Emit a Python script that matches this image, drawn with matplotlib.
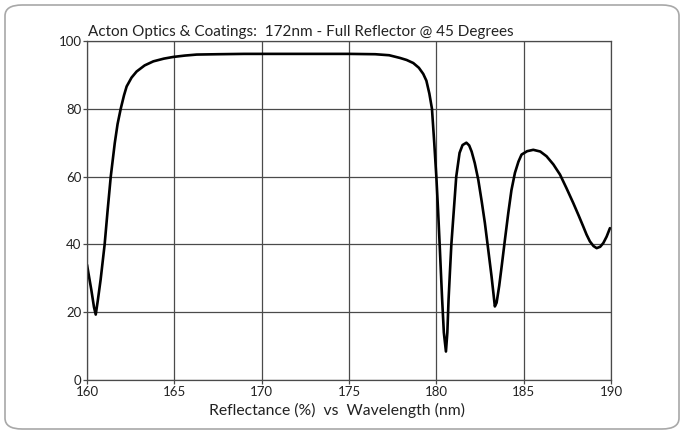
import matplotlib
matplotlib.use("Agg")
import matplotlib.pyplot as plt
from matplotlib.patches import FancyBboxPatch

plt.rcParams['font.family'] = ['Lato', 'DejaVu Sans']

# wavelength (nm) and reflectance (%)
wavelength = [160.0, 160.25, 160.4, 160.5, 160.62, 160.78, 161.01, 161.18, 161.36, 161.59,
              161.75, 161.93, 162.12, 162.27, 162.55, 162.84, 163.3, 163.8, 164.4, 164.94,
              165.6, 166.28, 167.5, 169.0, 171.0, 173.0, 175.0, 176.5, 177.3, 177.92,
              178.3, 178.68, 179.0, 179.25, 179.43, 179.6, 179.75, 179.88, 180.0, 180.1,
              180.19, 180.33, 180.43, 180.55, 180.63, 180.7, 180.78, 180.86, 181.0, 181.14,
              181.33, 181.5, 181.72, 181.88, 182.02, 182.2, 182.4, 182.6, 182.78, 182.97,
              183.16, 183.27, 183.35, 183.45, 183.6, 183.74, 183.93, 184.12, 184.3, 184.5,
              184.7, 184.88, 185.2, 185.55, 185.95, 186.31, 186.7, 187.08, 187.45, 187.84,
              188.15, 188.41, 188.6, 188.79, 189.0, 189.18, 189.38, 189.56, 189.75, 189.94]
reflectance = [34, 26.5, 21.5, 19.3, 23.5, 29.6, 40, 50, 60, 69.9,
               75.5, 80, 84, 86.6, 89.2, 91.0, 92.8, 94.0, 94.8, 95.3,
               95.7, 96.0, 96.1, 96.2, 96.2, 96.2, 96.2, 96.1, 95.8, 95.0,
               94.4, 93.5, 92.1, 90.3, 88.3, 84.5, 80, 70, 60, 50,
               40, 24, 14, 8.4, 14, 23.7, 32, 40, 50, 60,
               67, 69.3, 70, 69.2, 67.4, 64, 59.1, 52.6, 46.3, 38.5,
               30.6, 25.5, 21.7, 22.8, 27.8, 33.5, 41.5, 49.3, 56, 61.1,
               64.4, 66.5, 67.5, 67.9, 67.4, 66, 63.6, 60.6, 56.6, 52.2,
               48.5, 45.3, 42.9, 40.9, 39.5, 38.9, 39.3, 40.4, 42.3, 44.8]

x_ticks = [160, 165, 170, 175, 180, 185, 190]
y_ticks = [0, 20, 40, 60, 80, 100]

title = "Acton Optics & Coatings:  172nm - Full Reflector @ 45 Degrees"
xlabel = "Reflectance (%)  vs  Wavelength (nm)"

fig = plt.figure(figsize=(6.84, 4.34), dpi=100)
W, H = 684, 434

# rounded outer frame, kept behind the axes
frame = FancyBboxPatch((5 / W, 5 / H), 674 / W, 424 / H,
                       boxstyle="round,pad=0,rounding_size=0.025",
                       transform=fig.transFigure, facecolor="white",
                       edgecolor="#a8a8a8", linewidth=1.2, zorder=-5)
fig.patches.append(frame)

ax = fig.add_axes([87 / W, 1 - 380 / H, 524 / W, 339 / H])
ax.set_zorder(2)
ax.set_facecolor("white")
ax.plot(wavelength, reflectance, color="black", linewidth=1.9,
        solid_joinstyle="round", solid_capstyle="round")

ax.set_xlim(160, 190)
ax.set_ylim(0, 100)
ax.set_xticks(x_ticks)
ax.set_yticks(y_ticks)
ax.grid(True, color="#4a4a4a", linewidth=0.9)
ax.set_axisbelow(True)
for s in ax.spines.values():
    s.set_color("#4a4a4a")
    s.set_linewidth(0.9)
ax.tick_params(direction="out", length=3, width=0.9, color="#4a4a4a",
               labelsize=9.5, pad=1, labelcolor="#222222")

fig.text(88 / W, 1 - 32 / H, title, fontsize=11, color="#222222",
         ha="left", va="center", zorder=3)
fig.text(337 / W, 1 - 410 / H, xlabel, fontsize=11.3, color="#222222",
         ha="center", va="center", zorder=3)

fig.savefig("out.png", dpi=100, facecolor="white")
